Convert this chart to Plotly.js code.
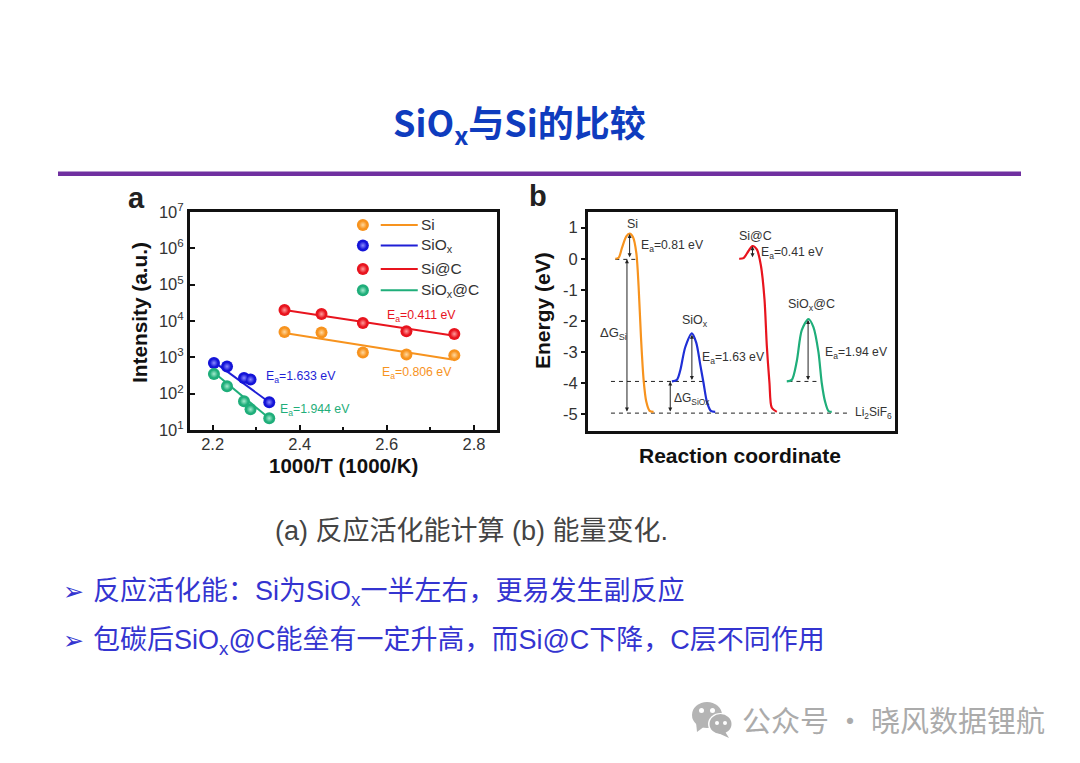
<!DOCTYPE html>
<html><head><meta charset="utf-8">
<script src="https://cdn.plot.ly/plotly-3.0.1.min.js"></script>
<style>html,body{margin:0;padding:0;background:#fff}</style></head>
<body><div id="chart" style="width:1080px;height:763px"></div>
<script>
// Panel a: Arrhenius data
const xSi=[2.365,2.45,2.545,2.645,2.755];
const ySi=[5000,4800,1350,1200,1150];
const fitXSi=[2.365,2.75];
const fitYSi=[4700,870];
const xSiOx=[2.203,2.233,2.272,2.287,2.33];
const ySiOx=[700,560,270,245,58];
const fitXSiOx=[2.203,2.33];
const fitYSiOx=[750,58];
const xSiC=[2.365,2.45,2.545,2.645,2.755];
const ySiC=[20000,15500,8800,5200,4400];
const fitXSiC=[2.365,2.755];
const fitYSiC=[20000,3900];
const xSiOxC=[2.203,2.233,2.272,2.287,2.33];
const ySiOxC=[350,160,62,37,21];
const fitXSiOxC=[2.203,2.33];
const fitYSiOxC=[380,21];
const keyNames=['Si','SiO<sub>x</sub>','Si@C','SiO<sub>x</sub>@C'];
const keyY=[4.4e6,1.2e6,2.7e5,7e4];
// Panel b: energy profiles
const bxSi=[285,295,305,318,328,338,348,355,362,370,378,388,400];
const bySi=[0,0.03,0.35,0.72,0.81,0.7,0.2,-0.9,-2.5,-3.9,-4.6,-4.9,-4.93];
const bxSiOx=[455,470,480,495,515,528,540,550,560,572,585];
const bySiOx=[-3.95,-3.9,-3.6,-2.85,-2.4,-2.7,-3.4,-4.0,-4.6,-4.9,-4.93];
const bxSiC=[657,670,685,697,710,722,733,740,748,755,770];
const bySiC=[0,0.02,0.25,0.41,0.3,-0.2,-1.3,-2.8,-4,-4.8,-4.93];
const bxSiOxC=[800,815,830,845,865,880,895,905,915,925,935];
const bySiOxC=[-3.95,-3.9,-3.3,-2.3,-1.94,-2.2,-3,-4,-4.6,-4.9,-4.93];

const ORANGE='#F7931E',BLUE='#1F1FD6',RED='#E8141E',GREEN='#1FAE7A';
const CJK='"Noto Sans CJK SC","Liberation Sans",sans-serif';
const ARIAL='"Liberation Sans","Noto Sans CJK SC",Arial,sans-serif';
const px=x=>x/1080, py=y=>1-y/763;

function dots(x,y,c,light){
  const base={x,y,mode:'markers',type:'scatter',xaxis:'x',yaxis:'y',showlegend:false};
  return [Object.assign({},base,{marker:{size:12,color:c,line:{width:0}}}),
          Object.assign({},base,{marker:{size:8,color:c,gradient:{type:'radial',color:light},line:{width:0}}})];
}
function fit(x,y,c){return {x,y,mode:'lines',type:'scatter',xaxis:'x',yaxis:'y',showlegend:false,line:{color:c,width:2}};}
function prof(x,y,c){return {x,y,mode:'lines',type:'scatter',xaxis:'x2',yaxis:'y2',showlegend:false,line:{color:c,width:2.2,shape:'spline',smoothing:0.8}};}
function dash(x,y){return {x,y,mode:'lines',type:'scatter',xaxis:'x2',yaxis:'y2',showlegend:false,line:{color:'#222',width:1,dash:'4px,4px'}};}

const seriesCols=[[ORANGE,'#FFD9A0'],['#1414D8','#8C8CFF'],[RED,'#FF9C9C'],[GREEN,'#A5EBCF']];
const lineCols=[ORANGE,BLUE,RED,GREEN];
const data=[
 fit(fitXSi,fitYSi,ORANGE),fit(fitXSiOx,fitYSiOx,BLUE),fit(fitXSiC,fitYSiC,RED),fit(fitXSiOxC,fitYSiOxC,GREEN),
 ...dots(xSi,ySi,...seriesCols[0]),...dots(xSiOx,ySiOx,...seriesCols[1]),...dots(xSiC,ySiC,...seriesCols[2]),...dots(xSiOxC,ySiOxC,...seriesCols[3]),
 ...keyY.flatMap((v,i)=>[...dots([2.545],[v],...seriesCols[i]),fit([2.586,2.671],[v,v],lineCols[i])]),
 dash([285,350],[-0.02,-0.02]),dash([272,555],[-3.95,-3.95]),dash([805,895],[-3.95,-3.95]),dash([272,990],[-4.97,-4.97]),
 prof(bxSi,bySi,ORANGE),prof(bxSiOx,bySiOx,'#1F2FD6'),prof(bxSiC,bySiC,RED),prof(bxSiOxC,bySiOxC,GREEN)
];

function note(x,y,text,size,color,extra){return Object.assign({xref:'paper',yref:'paper',x:px(x),y:py(y),text,showarrow:false,
  font:{size,color,family:ARIAL},xanchor:'center',yanchor:'middle'},extra||{});}
function lab(x,y,text,size,color){return {xref:'x',yref:'y',x,y:Math.log10(y),text,showarrow:false,font:{size,color,family:ARIAL},xanchor:'left',yanchor:'middle'};}
function labB(x,y,text,size,color){return {xref:'x2',yref:'y2',x,y,text,showarrow:false,font:{size,color,family:ARIAL},xanchor:'left',yanchor:'middle'};}
function arr(x,y0,y1){return {xref:'x2',yref:'y2',axref:'x2',ayref:'y2',x,y:y1,ax:x,ay:y0,text:'',showarrow:true,arrowside:'end+start',arrowhead:2,arrowsize:0.8,arrowwidth:1,arrowcolor:'#222'};}

const BUL='#3434D0';
const annotations=[
 note(519,124,'<b>SiO<sub>x</sub>与Si的比较</b>',36,'#0F3CBE',{font:{size:36,color:'#0F3CBE',family:CJK}}),
 note(136,198,'<b>a</b>',29,'#222'),
 note(538,196,'<b>b</b>',29,'#222'),
 note(471,531,'(a) 反应活化能计算 (b) 能量变化.',27,'#444'),
 note(91,593,'反应活化能：Si为SiO<sub>x</sub>一半左右，更易发生副反应',27,BUL,{xanchor:'left'}),
 note(91,642,'包碳后SiO<sub>x</sub>@C能垒有一定升高，而Si@C下降，C层不同作用',27,BUL,{xanchor:'left'}),
 note(73,591,'➢',25,BUL,{font:{size:25,color:BUL,family:'"DejaVu Sans"'}}),
 note(73,640,'➢',25,BUL,{font:{size:25,color:BUL,family:'"DejaVu Sans"'}}),
 note(894,719,'公众号 · 晓风数据锂航',29,'#ababab',{font:{size:29,color:'#ababab',family:CJK}}),
 note(343,465,'<b>1000/T (1000/K)</b>',20.5,'#111'),
 note(740,455,'<b>Reaction coordinate</b>',21,'#111'),
 note(140,313,'<b>Intensity (a.u.)</b>',20.8,'#111',{textangle:-90}),
 note(542,311,'<b>Energy (eV)</b>',21,'#111',{textangle:-90}),
 ...keyNames.map((t,i)=>lab(2.675,keyY[i],t,15.5,'#333')),
 lab(2.596,1.38e4,'E<sub>a</sub>=0.411 eV',12.3,RED),lab(2.585,370,'E<sub>a</sub>=0.806 eV',12.3,ORANGE),
 lab(2.318,288,'E<sub>a</sub>=1.633 eV',12.3,BLUE),lab(2.35,35.6,'E<sub>a</sub>=1.944 eV',12.3,GREEN),
 labB(356,0.4,'E<sub>a</sub>=0.81 eV',12.2,'#333'),labB(718,0.2,'E<sub>a</sub>=0.41 eV',12.2,'#333'),
 labB(540,-3.2,'E<sub>a</sub>=1.63 eV',12.2,'#333'),labB(908,-3.05,'E<sub>a</sub>=1.94 eV',12.2,'#333'),
 labB(313,1.13,'Si',12.5,'#333'),labB(650,0.72,'Si@C',12.5,'#333'),labB(478,-2.0,'SiO<sub>x</sub>',12.5,'#333'),labB(797,-1.5,'SiO<sub>x</sub>@C',12.5,'#333'),
 labB(232,-2.4,'ΔG<sub>Si</sub>',13,'#333'),labB(455,-4.5,'ΔG<sub>SiOx</sub>',12,'#333'),labB(998,-4.97,'Li<sub>2</sub>SiF<sub>6</sub>',12,'#333'),
 arr(328,0,0.8),arr(320,-4.97,-0.02),arr(515,-3.95,-2.45),arr(450,-4.97,-3.95),arr(697,0,0.4),arr(864,-3.95,-1.97)
];

const axBase={showline:true,linewidth:3,linecolor:'#111',mirror:true,showgrid:false,zeroline:false,tickcolor:'#111',tickwidth:2,
 tickfont:{family:ARIAL,size:16.5,color:'#333'}};
const wm=(x0,y0,x1,y1,c)=>({type:'circle',xref:'paper',yref:'paper',x0:px(x0),x1:px(x1),y0:py(y1),y1:py(y0),fillcolor:c,line:{width:0},layer:'above'});
const tail=(a,b,c,col)=>({type:'path',xref:'paper',yref:'paper',path:`M${px(a[0])},${py(a[1])}L${px(b[0])},${py(b[1])}L${px(c[0])},${py(c[1])}Z`,fillcolor:col,line:{width:0},layer:'above'});
const shapes=[
 {type:'rect',xref:'paper',yref:'paper',x0:px(58),x1:px(1021),y0:py(176),y1:py(171.5),fillcolor:'#7030A0',line:{width:0}},
 wm(692,702,722,728,'#b4b4b4'),tail([696,722],[697,732],[705,726],'#b4b4b4'),
 wm(708,713,733,735,'#fff'),wm(709.5,714,731.5,734,'#b0b0b0'),tail([724,730],[729,738],[718,733],'#b0b0b0'),
 wm(699,708,704,713,'#fff'),wm(710,708,715,713,'#fff'),wm(715,721,719,725,'#fff'),wm(723,721,727,725,'#fff')
];

Plotly.newPlot('chart',data,{
 width:1080,height:763,margin:{l:0,r:0,t:0,b:0},paper_bgcolor:'#fff',plot_bgcolor:'#fff',showlegend:false,
 font:{family:ARIAL},
 xaxis:Object.assign({},axBase,{domain:[px(190),px(497)],anchor:'y',range:[2.148,2.853],tickvals:[2.2,2.4,2.6,2.8],ticktext:['2.2','2.4','2.6','2.8'],minor:{tickvals:[2.3,2.5,2.7],ticks:'inside',ticklen:3,tickcolor:'#111'},ticks:'inside',ticklen:5,ticklabelstandoff:-3}),
 yaxis:Object.assign({},axBase,{domain:[py(430),py(212)],anchor:'x',type:'log',range:[1,7],tickvals:[1e1,1e2,1e3,1e4,1e5,1e6,1e7],ticktext:['10<sup>1</sup>','10<sup>2</sup>','10<sup>3</sup>','10<sup>4</sup>','10<sup>5</sup>','10<sup>6</sup>','10<sup>7</sup>'],ticks:'inside',ticklen:5}),
 xaxis2:Object.assign({},axBase,{domain:[px(588),px(895)],anchor:'y2',range:[203,1125],showticklabels:false,ticks:''}),
 yaxis2:Object.assign({},axBase,{domain:[py(430.5),py(212)],anchor:'x2',range:[-5.53,1.505],tickvals:[-5,-4,-3,-2,-1,0,1],ticktext:['-5','-4','-3','-2','-1','0','1'],ticks:'outside',ticklen:4}),
 annotations,shapes
},{displayModeBar:false,staticPlot:true});
</script></body></html>
